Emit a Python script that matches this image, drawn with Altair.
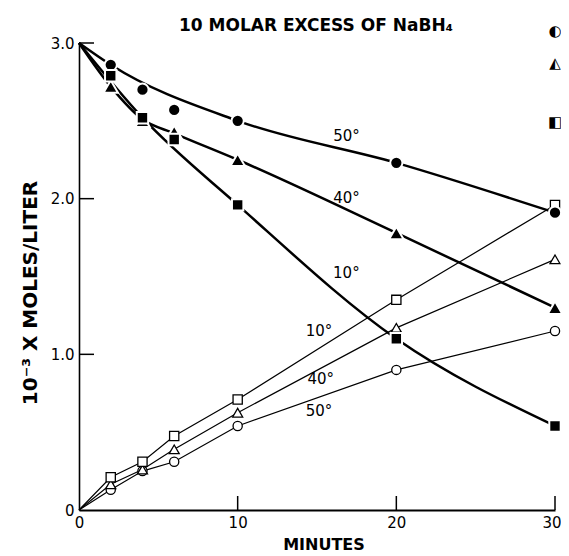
import altair as alt
import pandas as pd

# ---- data ----
minutes = [2, 4, 6, 10, 20, 30]
solid_50 = [2.86, 2.70, 2.57, 2.50, 2.23, 1.91]   # filled circles
solid_40 = [2.72, 2.50, 2.43, 2.25, 1.78, 1.30]   # filled triangles
solid_10 = [2.79, 2.52, 2.38, 1.96, 1.10, 0.54]   # filled squares
open_10 = [0.21, 0.31, 0.475, 0.71, 1.35, 1.96]   # open squares
open_40 = [0.165, 0.26, 0.39, 0.625, 1.17, 1.61]  # open triangles
open_50 = [0.13, 0.25, 0.31, 0.54, 0.90, 1.15]    # open circles

# hand-drawn smooth curves through the filled series
curve_50_t = [0, 2, 10, 20, 30]
curve_50_y = [3.0, 2.86, 2.50, 2.23, 1.91]
curve_40_t = [0, 2, 4, 6, 10, 20, 30]
curve_40_y = [3.0, 2.72, 2.51, 2.42, 2.25, 1.78, 1.30]
curve_10_t = [0, 4, 10, 20, 30]
curve_10_y = [3.0, 2.52, 1.96, 1.10, 0.54]

# thin straight lines from the origin through the open series
open_start_t = [0]
open_start_y = [0.0]

# curve labels
label_text = ["50°", "40°", "10°", "10°", "40°", "50°"]
label_x = [16.86, 16.86, 16.85, 15.13, 15.24, 15.13]
label_y = [2.40, 2.005, 1.52, 1.15, 0.84, 0.635]

# key symbols at upper right
key_glyph = ["◐", "◭", "◧"]
key_x = [30, 30, 30]
key_y = [3.08, 2.87, 2.49]

x_ticks = [10, 20, 30]
y_ticks = [1.0, 2.0, 3.0]
x_tick_labels = [0, 10, 20, 30]
y_tick_labels = [0, 1, 2, 3]

title_text = "10 MOLAR EXCESS OF NaBH₄"
x_title = "MINUTES"
y_title = "10⁻³ X MOLES/LITER"

FONT = "DejaVu Sans"
W, H = 476, 467

# ---- tables ----
def series(name, ts, ys):
    return pd.DataFrame({"t": ts, "v": ys, "s": name})

curves = pd.concat([
    series("50", curve_50_t, curve_50_y),
    series("40", curve_40_t, curve_40_y),
    series("10", curve_10_t, curve_10_y),
])
open_lines = pd.concat([
    series("o10", open_start_t + minutes, open_start_y + open_10),
    series("o40", open_start_t + minutes, open_start_y + open_40),
    series("o50", open_start_t + minutes, open_start_y + open_50),
])
labels = pd.DataFrame({"t": label_x, "v": label_y, "txt": label_text})
keys = pd.DataFrame({"t": key_x, "v": key_y, "g": key_glyph})

xs = alt.Scale(domain=[0, 30], nice=False)
ys = alt.Scale(domain=[0, 3], nice=False)

x_axis = alt.Axis(values=x_tick_labels, ticks=False, grid=False,
                  domainColor="black", domainWidth=2, labelFont=FONT,
                  labelFontSize=15, labelColor="black", labelPadding=5,
                  labelAlign={"condition": {"test": "datum.value == 30", "value": "right"},
                              "value": "center"},
                  labelOffset={"condition": {"test": "datum.value == 30", "value": 6},
                               "value": 0},
                  labelFlush=False, labelOverlap=False, title=None)
y_axis = alt.Axis(values=y_tick_labels, ticks=False, grid=False,
                  domainColor="black", domainWidth=1.6, labelFont=FONT,
                  labelFontSize=15, labelColor="black", labelPadding=5,
                  labelFlush=False, labelOverlap=False, title=None,
                  labelExpr="datum.value == 0 ? '0' : format(datum.value, '.1f')")

X = alt.X("t:Q", scale=xs, axis=x_axis)
Y = alt.Y("v:Q", scale=ys, axis=y_axis)

def pts(vals):
    return pd.DataFrame({"t": minutes, "v": vals})

thin = alt.Chart(open_lines).mark_line(color="black", strokeWidth=1.2, interpolate="linear").encode(
    x=X, y=Y, detail="s:N")
thick = alt.Chart(curves).mark_line(color="black", strokeWidth=2.5, interpolate="monotone").encode(
    x=X, y=Y, detail="s:N")

# inward tick marks
xt = alt.Chart(pd.DataFrame({"t": x_ticks})).mark_rule(color="black", strokeWidth=1.5).encode(
    x=X, y=alt.value(H), y2=alt.value(H - 14))
yt = alt.Chart(pd.DataFrame({"v": y_ticks})).mark_rule(color="black", strokeWidth=1.5).encode(
    y=Y, x=alt.value(0), x2=alt.value(15))

def filled(vals, shape, size):
    return alt.Chart(pts(vals)).mark_point(shape=shape, size=size, filled=True, fill="black",
                                           stroke="white", strokeWidth=2, opacity=1).encode(x=X, y=Y)

def hollow(vals, shape, size):
    return alt.Chart(pts(vals)).mark_point(shape=shape, size=size, filled=True, fill="white",
                                           stroke="black", strokeWidth=1.3, opacity=1).encode(x=X, y=Y)

layers = [
    thin, thick, xt, yt,
    hollow(open_50, "circle", 85),
    hollow(open_40, "triangle-up", 100),
    hollow(open_10, "square", 85),
    filled(solid_50, "circle", 150),
    filled(solid_40, "triangle-up", 210),
    filled(solid_10, "square", 130),
    alt.Chart(labels).mark_text(font=FONT, fontSize=15, color="black").encode(
        x=X, y=Y, text="txt:N"),
    alt.Chart(keys).mark_text(font=FONT, fontSize=15, fontWeight="bold", color="black").encode(
        x=X, y=Y, text="g:N"),
    alt.Chart(pd.DataFrame({"txt": [title_text]})).mark_text(
        font=FONT, fontSize=17, fontWeight="bold", color="black", align="center",
        baseline="alphabetic").encode(x=alt.value(237), y=alt.value(-12), text="txt:N"),
    alt.Chart(pd.DataFrame({"txt": [x_title]})).mark_text(
        font=FONT, fontSize=16, fontWeight="bold", color="black", align="center",
        baseline="middle").encode(x=alt.value(245), y=alt.value(502), text="txt:N"),
    alt.Chart(pd.DataFrame({"txt": [y_title]})).mark_text(
        font=FONT, fontSize=20, fontWeight="bold", color="black", align="center",
        baseline="middle", angle=270).encode(x=alt.value(-48), y=alt.value(250), text="txt:N"),
]

chart = alt.layer(*layers).properties(
    width=W, height=H,
    autosize=alt.AutoSizeParams(type="none"),
    padding={"left": 71, "top": 35, "right": 6, "bottom": 46},
).configure(background="white").configure_view(stroke=None).configure_axis(
    labelFontSize=15, labelFont=FONT, labelColor="black")

chart.save("out.html", embed_options={"renderer": "svg", "actions": False})
